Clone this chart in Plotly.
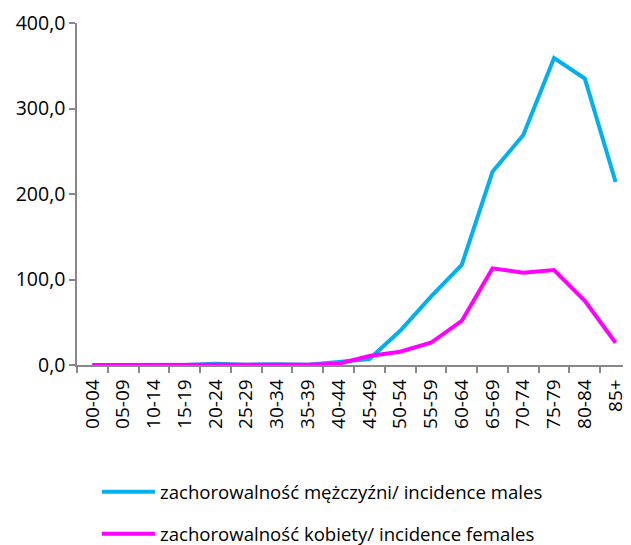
import plotly.graph_objects as go

categories = ["00-04", "05-09", "10-14", "15-19", "20-24", "25-29", "30-34", "35-39",
              "40-44", "45-49", "50-54", "55-59", "60-64", "65-69", "70-74", "75-79",
              "80-84", "85+"]
males = [0.0, 0.0, 0.0, 0.0, 1.5, 0.3, 1.0, 0.4, 3.5, 7.0, 40.0, 80.0, 117.0,
         226.0, 269.0, 359.0, 335.0, 214.0]
females = [0.0, 0.0, 0.0, 0.0, 0.0, 0.0, 0.5, 0.3, 1.5, 10.5, 15.5, 26.0, 51.5,
           113.0, 108.0, 111.0, 75.0, 26.0]
name_m = "zachorowalność mężczyźni/ incidence males"
name_f = "zachorowalność kobiety/ incidence females"
yticks = [0, 100, 200, 300, 400]

font_family = "Open Sans, Lato, sans-serif"

fig = go.Figure()
fig.add_trace(go.Scatter(x=categories, y=males, mode="lines", name=name_m,
                         legendgroup="m",
                         line=dict(color="#00B0F0", width=4)))
fig.add_trace(go.Scatter(x=categories, y=females, mode="lines", name=name_f,
                         legendgroup="f",
                         line=dict(color="#FF00FF", width=4)))

# the page body has an 8px margin, so the figure is made 8px smaller
fig.update_layout(
    width=623, height=537,
    margin=dict(l=69, r=0, t=15, b=537 - 15 - 342, autoexpand=False),
    paper_bgcolor="white", plot_bgcolor="white",
    separators=", ",
    font=dict(family=font_family, size=17, color="#000000"),
    legend=dict(orientation="v", x=0.036, xanchor="left", y=-0.316, yanchor="top",
                traceorder="grouped", tracegroupgap=15,
                font=dict(size=18.6, family=font_family), itemwidth=53,
                bgcolor="rgba(0,0,0,0)", borderwidth=0),
)
fig.update_xaxes(type="category", range=[-0.5, 17.5], tickson="boundaries",
                 ticks="outside", ticklen=6, tickcolor="#888888", tickwidth=1.5,
                 showline=True, linecolor="#888888", linewidth=1.5,
                 showgrid=False, zeroline=False, tickangle=-90, automargin=False,
                 ticklabelstandoff=5,
                 tickfont=dict(size=19, family=font_family))
fig.update_yaxes(range=[0, 400], tickvals=yticks, tickformat=".1f",
                 ticks="outside", ticklen=6, tickcolor="#888888", tickwidth=1.5,
                 showline=True, linecolor="#888888", linewidth=1.5,
                 showgrid=False, zeroline=False, automargin=False,
                 tickfont=dict(size=19.5, family=font_family))

fig.write_html("out.html")
